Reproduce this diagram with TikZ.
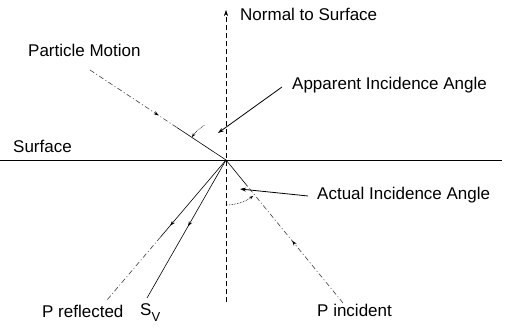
\documentclass[tikz,border=0pt]{standalone}
\usepackage{fontspec}
\setmainfont{Liberation Sans}
\usetikzlibrary{arrows.meta,decorations.markings,calc}
\begin{document}
\begin{tikzpicture}[x=1pt,y=-1pt,
  lbl/.style={anchor=base west,inner sep=0pt,font=\fontsize{17}{20}\selectfont},
  ln/.style={line width=0.6pt},
  lnthick/.style={line width=0.8pt},
  dd/.style={line width=0.6pt,black!75,dash pattern=on 5pt off 2.5pt on 1pt off 2.5pt},
  normline/.style={line width=0.6pt,dash pattern=on 5pt off 3pt},
  tip/.style={-{Stealth[length=6pt,width=4pt]}},
  smalltip/.style={-{Stealth[length=4pt,width=3pt]}},
  midarrow/.style={postaction={decorate},decoration={markings,mark=at position #1 with {\arrow[black]{Stealth[length=5pt,width=3.5pt]}}}},
]
\useasboundingbox (0,0) rectangle (506,328);
\fill[white] (0,0) rectangle (506,328);

% key points
\coordinate (O) at (226,160);
\coordinate (NT) at (226,10);
\coordinate (NB) at (226,302);
\coordinate (SL) at (0,160);
\coordinate (SR) at (502,160);
\coordinate (PM) at (90,70);
\coordinate (PMs) at ($(PM)!0.64!(O)$);
\coordinate (PI) at (343,303);
\coordinate (PIs) at ($(O)!0.18!(PI)$);
\coordinate (PR) at (107,300);
\coordinate (PRs) at ($(O)!0.55!(PR)$);
\coordinate (SV) at (147,298);

% normal and surface
\draw[normline,tip] (NB) -- (NT);
\draw[ln] (SL) -- (SR);

% particle motion
\draw[dd,midarrow=0.79] (PM) -- (PMs);
\draw[ln] (PMs) -- (O);

% P incident
\draw[ln] (O) -- (PIs);
\draw[dd,midarrow=0.53] (PI) -- (PIs);

% P reflected
\draw[ln,midarrow=0.855] (O) -- (PRs);
\draw[dd] (PRs) -- (PR);

% S_V
\draw[ln,midarrow=0.48] (O) -- (SV);

% angle marks
\coordinate (AA) at ($(O)+(-122:41)$);
\draw[ln,densely dotted,smalltip] (AA) arc[start angle=-122,end angle=-146,radius=41];
\coordinate (AC) at ($(O)+(90:45)$);
\draw[ln,densely dotted,smalltip] (AC) arc[start angle=90,end angle=53,radius=45];

% labels
\node[lbl] (tN) at (240,21) {Normal to Surface};
\node[lbl] (tA) at (292,90) {Apparent Incidence Angle};
\node[lbl] (tP) at (28,57) {Particle Motion};
\node[lbl] (tS) at (13,153) {Surface};
\node[lbl] (tC) at (317,200) {Actual Incidence Angle};
\node[lbl] (tI) at (317,317) {P incident};
\node[lbl] (tR) at (42,318) {P reflected};
\node[lbl] (tV) at (140,316) {S\raisebox{-6pt}{\fontsize{13}{13}\selectfont V}};

% label pointers
\coordinate (aps) at (282,87);
\coordinate (ape) at (218,133);
\draw[lnthick,tip] (aps) -- (ape);
\coordinate (acs) at (308,196);
\coordinate (ace) at (240,189);
\draw[lnthick,tip] (acs) -- (ace);
\end{tikzpicture}
\end{document}
